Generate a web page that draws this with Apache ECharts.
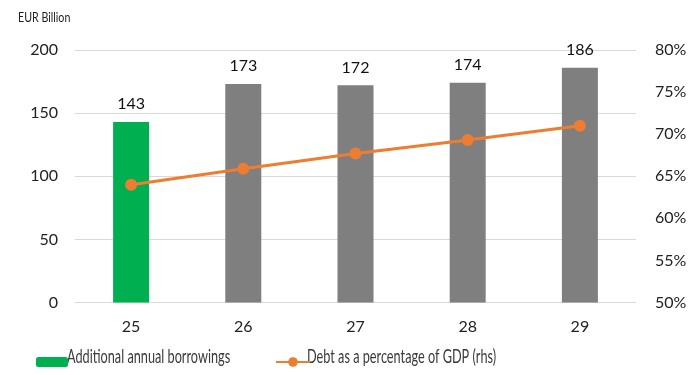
<!DOCTYPE html>
<html>
<head>
<meta charset="utf-8">
<script src="https://cdn.jsdelivr.net/npm/echarts@6/dist/echarts.min.js"></script>
<style>
html,body{margin:0;padding:0;background:#fff;}
#c{width:700px;height:375px;}
</style>
</head>
<body>
<div id="c"></div>
<script>
var categories = ['25', '26', '27', '28', '29'];
var borrowings = [143, 173, 172, 174, 186];
var debtPct = [64.0, 65.9, 67.7, 69.3, 71.0];
var barColors = ['#00B050', '#7F7F7F', '#7F7F7F', '#7F7F7F', '#7F7F7F'];
var leftTicks = [0, 50, 100, 150, 200];
var rightTicks = [50, 55, 60, 65, 70, 75, 80];
var seriesNames = ['Additional annual borrowings', 'Debt as a percentage of GDP (rhs)'];
var unitLabel = 'EUR Billion';

var chart = echarts.init(document.getElementById('c'), null, {renderer: 'canvas'});
var font = 'Lato, "Open Sans", sans-serif';

chart.setOption({
  animation: false,
  backgroundColor: '#ffffff',
  grid: {left: 75, right: 64, top: 50, bottom: 72.5, containLabel: false},
  graphic: [{
    type: 'text', x: 18, y: 18, scaleX: 0.82,
    style: {text: unitLabel, font: '13px ' + font, fill: '#222', textVerticalAlign: 'middle'}
  }, {
    type: 'text', x: 67, y: 357, scaleX: 0.635,
    style: {text: seriesNames[0], font: '20px ' + font, fill: '#3a3a3a', textVerticalAlign: 'middle'}
  }, {
    type: 'text', x: 307, y: 357, scaleX: 0.635,
    style: {text: seriesNames[1], font: '20px ' + font, fill: '#3a3a3a', textVerticalAlign: 'middle'}
  }],
  legend: [{
    data: [{name: seriesNames[0], itemStyle: {color: '#00B050'}}],
    left: 31, top: 352,
    itemWidth: 32, itemHeight: 10,
    formatter: function () { return ''; }
  }, {
    data: [seriesNames[1]],
    left: 270, top: 351,
    itemWidth: 34, itemHeight: 12,
    formatter: function () { return ''; }
  }],
  xAxis: {
    type: 'category', data: categories,
    axisLine: {show: true, lineStyle: {color: '#D9D9D9', width: 1}},
    axisTick: {show: false},
    axisLabel: {fontFamily: font, fontSize: 16, color: '#222', margin: 16}
  },
  yAxis: [{
    type: 'value', min: 0, max: 200, interval: 50,
    axisLine: {show: false}, axisTick: {show: false},
    splitLine: {lineStyle: {color: '#D9D9D9', width: 1}},
    axisLabel: {fontFamily: font, fontSize: 16, color: '#222', margin: 17,
      formatter: function (v) { return leftTicks.indexOf(v) >= 0 ? String(v) : ''; }}
  }, {
    type: 'value', min: 50, max: 80, interval: 5,
    axisLine: {show: false}, axisTick: {show: false}, splitLine: {show: false},
    axisLabel: {fontFamily: font, fontSize: 16, color: '#222', margin: 19,
      formatter: function (v) { return rightTicks.indexOf(v) >= 0 ? v + '%' : ''; }}
  }],
  series: [{
    name: seriesNames[0], type: 'bar', barWidth: 36,
    data: borrowings.map(function (v, i) { return {value: v, itemStyle: {color: barColors[i]}}; }),
    label: {show: true, position: 'top', distance: 10, fontFamily: font, fontSize: 16, color: '#111'}
  }, {
    name: seriesNames[1], type: 'line', yAxisIndex: 1,
    data: debtPct,
    itemStyle: {color: '#ED7D31'},
    lineStyle: {color: '#ED7D31', width: 3},
    symbol: 'circle', symbolSize: 12
  }]
});
</script>
</body>
</html>
